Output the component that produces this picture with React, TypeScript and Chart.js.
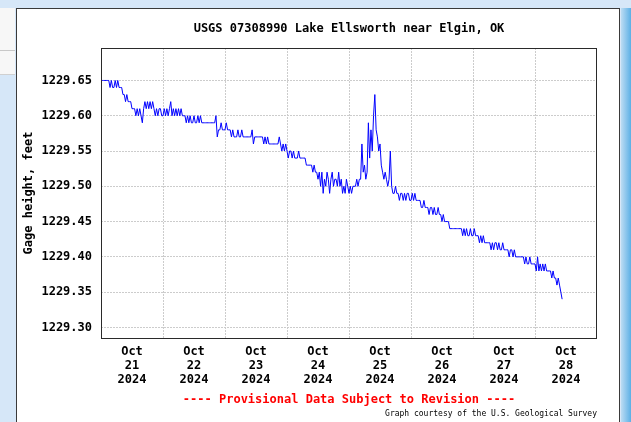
import React, { useEffect, useRef } from 'react';
import { Chart, registerables } from 'chart.js';

Chart.register(...registerables);

// ---- Text ----
const TITLE = 'USGS 07308990 Lake Ellsworth near Elgin, OK';
const Y_TITLE = 'Gage height, feet';
const PROVISIONAL = '---- Provisional Data Subject to Revision ----';
const COURTESY = 'Graph courtesy of the U.S. Geological Survey';

// ---- Axis labels ----
const MONTH = 'Oct';
const YEAR = '2024';
const DAYS = ['21', '22', '23', '24', '25', '26', '27', '28'];
const Y_TICKS = [1229.3, 1229.35, 1229.4, 1229.45, 1229.5, 1229.55, 1229.6, 1229.65];
const Y_MIN = 1229.285;
const Y_MAX = 1229.696;
const X_MAX_HOURS = 192; // Oct 21 00:00 -> Oct 29 00:00
const SAMPLE_HOURS = 0.5; // half-hourly readings from Oct 21 00:00

// ---- Gage height readings (feet), half-hourly ----
const oct21 = [
  1229.65, 1229.65, 1229.65, 1229.65, 1229.65, 1229.65,
  1229.65, 1229.64, 1229.65, 1229.64, 1229.64, 1229.65, 1229.64, 1229.65, 1229.64,
  1229.64, 1229.64, 1229.63,
  1229.63, 1229.62, 1229.63, 1229.62, 1229.62,
  1229.62, 1229.61, 1229.61,
  1229.61, 1229.6, 1229.61, 1229.6,
  1229.61, 1229.6, 1229.59,
  1229.61, 1229.62, 1229.61, 1229.62, 1229.61, 1229.62, 1229.61, 1229.62,
  1229.61, 1229.6, 1229.61, 1229.6, 1229.61, 1229.61, 1229.6,
];
const oct22 = [
  1229.6, 1229.61, 1229.6, 1229.61, 1229.6, 1229.61,
  1229.62,
  1229.6, 1229.61, 1229.6, 1229.61, 1229.6, 1229.61, 1229.6, 1229.61, 1229.6, 1229.6, 1229.6,
  1229.59, 1229.6, 1229.59, 1229.6, 1229.59, 1229.59, 1229.6, 1229.59,
  1229.59, 1229.6, 1229.59, 1229.6, 1229.59, 1229.59, 1229.59, 1229.59, 1229.59, 1229.59,
  1229.59, 1229.59, 1229.59, 1229.59, 1229.59,
  1229.6, 1229.57,
  1229.58, 1229.58, 1229.59, 1229.58, 1229.58,
];
const oct23 = [
  1229.58, 1229.59, 1229.58, 1229.58,
  1229.58, 1229.57, 1229.58, 1229.57, 1229.57,
  1229.57, 1229.58, 1229.57, 1229.57, 1229.58, 1229.57, 1229.57,
  1229.57, 1229.57, 1229.57, 1229.57, 1229.57,
  1229.58, 1229.56, 1229.57, 1229.57,
  1229.57, 1229.57, 1229.57, 1229.57, 1229.57, 1229.56, 1229.57,
  1229.56, 1229.57, 1229.56, 1229.56, 1229.56, 1229.56,
  1229.56, 1229.56, 1229.56, 1229.56,
  1229.57, 1229.56, 1229.55, 1229.56, 1229.55, 1229.56,
];
const oct24 = [
  1229.55, 1229.54, 1229.55, 1229.55, 1229.54, 1229.55,
  1229.54, 1229.54, 1229.54, 1229.55, 1229.54, 1229.54, 1229.54, 1229.54,
  1229.54, 1229.53, 1229.53, 1229.53, 1229.53, 1229.53,
  1229.52, 1229.53, 1229.52, 1229.52, 1229.51,
  1229.52, 1229.5, 1229.52, 1229.49, 1229.51, 1229.5, 1229.52,
  1229.51, 1229.49, 1229.51, 1229.52, 1229.5, 1229.51,
  1229.51, 1229.5, 1229.52, 1229.5, 1229.51, 1229.49,
  1229.5, 1229.49, 1229.51, 1229.5,
];
const oct25 = [
  1229.49, 1229.5, 1229.49, 1229.5, 1229.5, 1229.5,
  1229.51, 1229.5, 1229.51, 1229.51,
  1229.56,
  1229.52, 1229.53, 1229.51, 1229.52,
  1229.59,
  1229.54, 1229.58, 1229.55,
  1229.6,
  1229.63,
  1229.58, 1229.57, 1229.55, 1229.56,
  1229.53, 1229.52, 1229.51, 1229.52,
  1229.51, 1229.5, 1229.51,
  1229.55,
  1229.5, 1229.49, 1229.49, 1229.5, 1229.49,
  1229.49, 1229.48, 1229.49, 1229.49, 1229.48, 1229.49, 1229.48, 1229.49, 1229.49, 1229.48,
];
const oct26 = [
  1229.48, 1229.49, 1229.48, 1229.49, 1229.48, 1229.48,
  1229.48, 1229.48, 1229.47, 1229.47, 1229.48,
  1229.47, 1229.47, 1229.47, 1229.46, 1229.47, 1229.47,
  1229.46, 1229.47, 1229.46, 1229.46, 1229.47, 1229.46,
  1229.46, 1229.45, 1229.46, 1229.45, 1229.45, 1229.45,
  1229.45, 1229.44, 1229.44, 1229.44, 1229.44, 1229.44,
  1229.44, 1229.44, 1229.44, 1229.44, 1229.44, 1229.43, 1229.44,
  1229.43, 1229.44, 1229.43, 1229.43, 1229.44, 1229.43,
];
const oct27 = [
  1229.43, 1229.44, 1229.43, 1229.43, 1229.43, 1229.42,
  1229.43, 1229.42, 1229.43, 1229.42, 1229.42, 1229.42,
  1229.42, 1229.42, 1229.41, 1229.42, 1229.41, 1229.42,
  1229.42, 1229.41, 1229.42, 1229.41, 1229.41, 1229.42,
  1229.41, 1229.41, 1229.41, 1229.41, 1229.4, 1229.41,
  1229.41, 1229.4, 1229.41, 1229.4, 1229.4, 1229.4,
  1229.4, 1229.4, 1229.4, 1229.4, 1229.39, 1229.4,
  1229.39, 1229.39, 1229.4, 1229.39, 1229.39, 1229.39,
];
const oct28 = [
  1229.39, 1229.38, 1229.4, 1229.38, 1229.39, 1229.38,
  1229.39, 1229.38, 1229.39, 1229.38, 1229.38, 1229.38,
  1229.38, 1229.37, 1229.38, 1229.37, 1229.37,
  1229.36, 1229.37, 1229.36, 1229.35, 1229.34,
];

const gageHeight = [...oct21, ...oct22, ...oct23, ...oct24, ...oct25, ...oct26, ...oct27, ...oct28];

const FONT = "'DejaVu Sans Mono', monospace";
const GRID = '#cccccc';

const usgsDecor = {
  id: 'usgsDecor',
  afterDraw(chart: any) {
    const { ctx, chartArea: a } = chart;
    ctx.save();
    ctx.strokeStyle = '#2a2a2a';
    ctx.lineWidth = 1;
    ctx.strokeRect(
      Math.round(a.left) + 0.5,
      Math.round(a.top) + 0.5,
      Math.round(a.right - a.left) - 1,
      Math.round(a.bottom - a.top)
    );
    const cx = (a.left + a.right) / 2;
    ctx.textAlign = 'center';
    ctx.textBaseline = 'middle';
    ctx.font = `bold 12px ${FONT}`;
    ctx.fillStyle = '#000000';
    ctx.fillText(TITLE, cx, a.top - 19);
    ctx.fillStyle = '#ff0000';
    ctx.fillText(PROVISIONAL, cx, a.bottom + 62);
    ctx.font = `8px ${FONT}`;
    ctx.fillStyle = '#000000';
    ctx.textAlign = 'right';
    ctx.fillText(COURTESY, a.right, a.bottom + 76);
    ctx.restore();
  },
};

function GageChart() {
  const canvasRef = useRef<HTMLCanvasElement | null>(null);

  useEffect(() => {
    const canvas = canvasRef.current;
    if (!canvas) return;
    const points = gageHeight.map((v, i) => ({ x: i * SAMPLE_HOURS, y: v }));
    const chart = new Chart(canvas, {
      type: 'line',
      data: {
        datasets: [
          {
            data: points,
            borderColor: '#0000ff',
            borderWidth: 1,
            pointRadius: 0,
            tension: 0,
            fill: false,
          },
        ],
      },
      plugins: [usgsDecor],
      options: {
        animation: false,
        responsive: false,
        devicePixelRatio: 1,
        layout: { padding: { top: 48, left: 0, right: 34, bottom: 0 } },
        plugins: {
          legend: { display: false },
          tooltip: { enabled: false },
          title: { display: false },
        },
        scales: {
          x: {
            type: 'linear',
            min: 0,
            max: X_MAX_HOURS,
            afterFit: (s: any) => {
              s.height = 84;
            },
            afterBuildTicks: (s: any) => {
              const t = [];
              for (let h = 0; h <= X_MAX_HOURS; h += 12) t.push({ value: h });
              s.ticks = t;
            },
            grid: {
              drawTicks: false,
              lineWidth: 1,
              color: (c: any) => {
                const v = c.tick ? c.tick.value : -1;
                return v > 0 && v < X_MAX_HOURS && v % 24 === 0 ? GRID : 'rgba(0,0,0,0)';
              },
            },
            border: { display: false, dash: [2, 1] },
            ticks: {
              autoSkip: false,
              maxRotation: 0,
              padding: 7,
              color: '#000000',
              font: { family: FONT, size: 12, weight: 'bold', lineHeight: 14 / 12 },
              callback: (value: any) => {
                const v = Number(value);
                if (v % 24 !== 12) return '';
                const d = DAYS[Math.floor(v / 24)];
                return [MONTH, d, YEAR];
              },
            },
          },
          y: {
            type: 'linear',
            min: Y_MIN,
            max: Y_MAX,
            afterFit: (s: any) => {
              s.width = 101;
            },
            afterBuildTicks: (s: any) => {
              s.ticks = Y_TICKS.map((v) => ({ value: v }));
            },
            grid: {
              drawTicks: false,
              lineWidth: 1,
              color: GRID,
            },
            border: { display: false, dash: [2, 1] },
            ticks: {
              padding: 9,
              color: '#000000',
              font: { family: FONT, size: 12, weight: 'bold' },
              callback: (value: any) => Number(value).toFixed(2),
            },
            title: {
              display: true,
              text: Y_TITLE,
              color: '#000000',
              font: { family: FONT, size: 12, weight: 'bold' },
              padding: { top: 22, bottom: 0 },
            },
          },
        },
      },
    } as any);
    return () => chart.destroy();
  }, []);

  return (
    <canvas
      ref={canvasRef}
      width={631}
      height={422}
      style={{ position: 'absolute', left: 0, top: 0, width: 631, height: 422 }}
    />
  );
}

export default function App() {
  return (
    <div
      style={{
        position: 'fixed',
        left: 0,
        top: 0,
        width: 631,
        height: 422,
        overflow: 'hidden',
        background: '#d6e7f8',
      }}
    >
      <div
        style={{
          position: 'absolute',
          left: 0,
          top: 8,
          width: 15,
          height: 66,
          background: '#f7f7f7',
          borderBottom: '1px solid #d0d0d0',
        }}
      />
      <div
        style={{
          position: 'absolute',
          left: 0,
          top: 50,
          width: 15,
          height: 1,
          background: '#c8c8c8',
        }}
      />
      <div
        style={{
          position: 'absolute',
          left: 16,
          top: 8,
          width: 602,
          height: 420,
          background: '#ffffff',
          border: '1px solid #3a3a3a',
        }}
      />
      <div
        style={{
          position: 'absolute',
          left: 621,
          top: 8,
          width: 10,
          height: 414,
          background: 'linear-gradient(to right, #bcdcf3, #5cb0e6)',
        }}
      />
      <GageChart />
    </div>
  );
}
